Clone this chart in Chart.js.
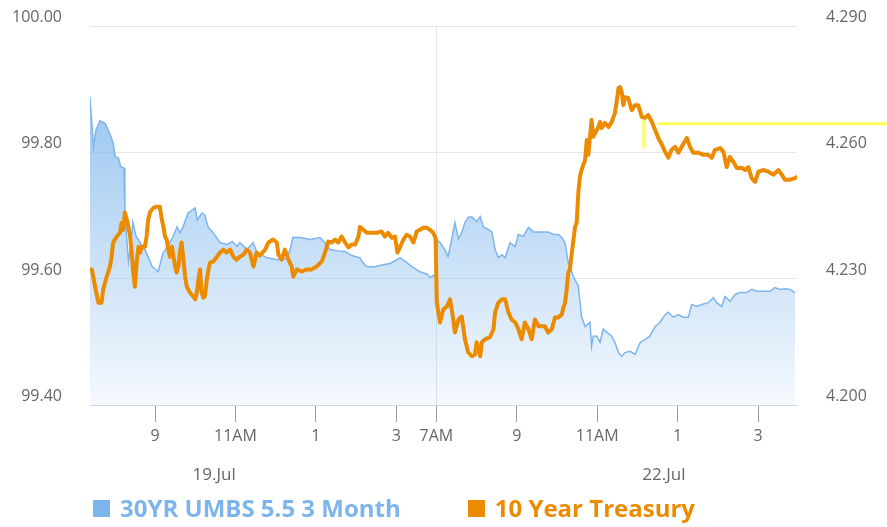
<!DOCTYPE html>
<html>
<head>
<meta charset="utf-8">
<script src="https://cdn.jsdelivr.net/npm/chart.js@4.4.1/dist/chart.umd.min.js"></script>
<style>
  html, body { margin: 0; padding: 0; background: #fff; }
  #wrap { position: relative; width: 887px; height: 527px; }
  #legend { position: absolute; left: 93px; top: 496px; display: flex; gap: 67px;
            font: bold 24px "Open Sans", sans-serif; line-height: 24px; white-space: nowrap; }
  #legend .item { display: flex; align-items: center; }
  #legend .box { width: 17px; height: 17px; margin-right: 10px; }
</style>
</head>
<body>
<div id="wrap">
  <canvas id="chart" width="887" height="527"></canvas>
  <div id="legend"></div>
</div>
<script>
// time is in hours on a trading clock: 19 Jul runs up to 16 (4PM),
// 22 Jul continues from 16 (= 7AM) so the overnight gap is squeezed out
const hourTicks = [9, 11, 13, 15, 16, 18, 20, 22, 24];
const hourLabels = ['9', '11AM', '1', '3', '7AM', '9', '11AM', '1', '3'];
const dateTicks = [10.47, 21.66];
const dateLabels = ['19.Jul', '22.Jul'];

const umbsTime = [
  7.38, 7.47, 7.53, 7.63, 7.76, 7.84, 7.96, 8.01, 8.09, 8.15,
  8.23, 8.25, 8.29, 8.34, 8.40, 8.45, 8.53, 8.63, 8.75, 8.93,
  9.08, 9.20, 9.32, 9.45, 9.55, 9.62, 9.70, 9.82, 10.00, 10.05,
  10.17, 10.24, 10.32, 10.44, 10.62, 10.79, 10.92, 11.04, 11.11, 11.29,
  11.44, 11.54, 11.79, 12.04, 12.28, 12.36, 12.43, 12.61, 12.86, 13.10,
  13.23, 13.35, 13.55, 13.73, 13.85, 13.98, 14.10, 14.15, 14.27, 14.47,
  14.67, 14.85, 15.02, 15.10, 15.27, 15.42, 15.59, 15.77, 15.84, 15.92,
  15.97,
  16.02, 16.09, 16.21, 16.29, 16.38, 16.46, 16.55, 16.63, 16.71, 16.79,
  16.88, 17.00, 17.09, 17.17, 17.29, 17.38, 17.46, 17.54, 17.63, 17.71,
  17.83, 17.96, 18.04, 18.16, 18.29, 18.41, 18.54, 18.66, 18.78, 18.91,
  19.03, 19.12, 19.20, 19.28, 19.41, 19.53, 19.61, 19.70, 19.82, 19.86,
  19.90, 19.99, 20.07, 20.15, 20.24, 20.36, 20.44, 20.53, 20.61, 20.69,
  20.82, 20.94, 21.07, 21.19, 21.31, 21.44, 21.56, 21.69, 21.77, 21.89,
  22.02, 22.14, 22.27, 22.35, 22.48, 22.60, 22.76, 22.89, 22.97, 23.10,
  23.18, 23.30, 23.43, 23.55, 23.72, 23.84, 23.97, 24.13, 24.30, 24.42,
  24.55, 24.67, 24.80, 24.92
];
const umbsPrice = [
  99.888, 99.809, 99.835, 99.850, 99.846, 99.835, 99.815, 99.793, 99.791, 99.777,
  99.775, 99.714, 99.670, 99.627, 99.654, 99.689, 99.667, 99.657, 99.646, 99.619,
  99.611, 99.641, 99.651, 99.667, 99.682, 99.673, 99.682, 99.704, 99.712, 99.693,
  99.704, 99.701, 99.682, 99.673, 99.657, 99.654, 99.659, 99.651, 99.657, 99.646,
  99.657, 99.641, 99.633, 99.630, 99.632, 99.646, 99.665, 99.665, 99.662, 99.665,
  99.657, 99.646, 99.644, 99.643, 99.638, 99.635, 99.633, 99.627, 99.619, 99.619,
  99.622, 99.624, 99.630, 99.633, 99.625, 99.618, 99.611, 99.607, 99.602, 99.605,
  99.602,
  99.662, 99.657, 99.646, 99.635, 99.662, 99.689, 99.662, 99.673, 99.689, 99.697,
  99.698, 99.690, 99.698, 99.682, 99.678, 99.674, 99.646, 99.633, 99.638, 99.633,
  99.657, 99.651, 99.670, 99.667, 99.681, 99.674, 99.674, 99.674, 99.674, 99.670,
  99.670, 99.665, 99.657, 99.625, 99.603, 99.588, 99.540, 99.524, 99.531, 99.493,
  99.509, 99.509, 99.499, 99.520, 99.515, 99.509, 99.499, 99.483, 99.477, 99.483,
  99.485, 99.480, 99.499, 99.504, 99.509, 99.524, 99.531, 99.543, 99.547, 99.539,
  99.543, 99.539, 99.539, 99.559, 99.556, 99.559, 99.562, 99.570, 99.562, 99.556,
  99.572, 99.564, 99.575, 99.578, 99.578, 99.583, 99.580, 99.580, 99.580, 99.586,
  99.583, 99.584, 99.583, 99.578
];

const tsyTime = [
  7.43, 7.51, 7.59, 7.67, 7.71, 7.80, 7.88, 7.92, 7.96, 8.05,
  8.13, 8.17, 8.21, 8.25, 8.30, 8.34, 8.38, 8.42, 8.46, 8.50,
  8.55, 8.59, 8.63, 8.67, 8.75, 8.79, 8.83, 8.88, 8.96, 9.04,
  9.12, 9.17, 9.21, 9.25, 9.29, 9.33, 9.37, 9.42, 9.46, 9.50,
  9.54, 9.58, 9.62, 9.66, 9.70, 9.75, 9.79, 9.87, 9.95, 10.00,
  10.04, 10.08, 10.12, 10.16, 10.20, 10.24, 10.29, 10.33, 10.37, 10.45,
  10.54, 10.62, 10.70, 10.78, 10.87, 10.95, 11.03, 11.11, 11.20, 11.28,
  11.36, 11.45, 11.53, 11.61, 11.74, 11.82, 11.94, 12.03, 12.07, 12.15,
  12.23, 12.32, 12.40, 12.44, 12.53, 12.65, 12.77, 12.90, 13.02, 13.15,
  13.23, 13.31, 13.40, 13.48, 13.56, 13.64, 13.73, 13.81, 13.89, 13.98,
  14.06, 14.10, 14.18, 14.27, 14.39, 14.52, 14.64, 14.72, 14.80, 14.89,
  14.97, 15.03, 15.10, 15.18, 15.26, 15.34, 15.43, 15.51, 15.59, 15.67,
  15.76, 15.84, 15.92, 15.98,
  16.01, 16.09, 16.17, 16.26, 16.34, 16.38, 16.42, 16.46, 16.55, 16.63,
  16.71, 16.79, 16.88, 16.96, 17.00, 17.09, 17.13, 17.21, 17.33, 17.42,
  17.46, 17.54, 17.63, 17.71, 17.79, 17.87, 17.96, 18.04, 18.12, 18.20,
  18.29, 18.37, 18.45, 18.54, 18.62, 18.70, 18.78, 18.87, 18.95, 19.03,
  19.12, 19.16, 19.20, 19.24, 19.28, 19.32, 19.37, 19.41, 19.45, 19.49,
  19.53, 19.57, 19.61, 19.70, 19.74, 19.78, 19.82, 19.86, 19.90, 19.95,
  20.03, 20.07, 20.11, 20.19, 20.28, 20.36, 20.44, 20.49, 20.53, 20.57,
  20.61, 20.65, 20.69, 20.77, 20.86, 20.94, 21.02, 21.11, 21.19, 21.27,
  21.36, 21.44, 21.52, 21.61, 21.69, 21.77, 21.85, 21.94, 22.02, 22.10,
  22.23, 22.31, 22.39, 22.52, 22.64, 22.76, 22.85, 22.93, 23.06, 23.14,
  23.22, 23.30, 23.39, 23.47, 23.60, 23.68, 23.76, 23.84, 23.93, 24.01,
  24.13, 24.26, 24.38, 24.51, 24.59, 24.67, 24.80, 24.92, 24.97
];
const tsyYield = [
  4.2322, 4.2281, 4.2243, 4.2243, 4.2274, 4.2305, 4.2329, 4.2352, 4.2386, 4.2400,
  4.2409, 4.2433, 4.2416, 4.2457, 4.2440, 4.2423, 4.2400, 4.2362, 4.2315, 4.2281,
  4.2345, 4.2376, 4.2362, 4.2376, 4.2376, 4.2400, 4.2440, 4.2459, 4.2468, 4.2471,
  4.2471, 4.2440, 4.2423, 4.2400, 4.2393, 4.2369, 4.2352, 4.2376, 4.2352, 4.2329,
  4.2315, 4.2329, 4.2362, 4.2386, 4.2352, 4.2305, 4.2281, 4.2267, 4.2258, 4.2251,
  4.2267, 4.2298, 4.2322, 4.2267, 4.2255, 4.2258, 4.2298, 4.2322, 4.2338, 4.2341,
  4.2352, 4.2362, 4.2369, 4.2362, 4.2369, 4.2352, 4.2345, 4.2352, 4.2357, 4.2369,
  4.2362, 4.2329, 4.2362, 4.2355, 4.2369, 4.2386, 4.2393, 4.2386, 4.2357, 4.2345,
  4.2369, 4.2345, 4.2329, 4.2305, 4.2322, 4.2317, 4.2322, 4.2322, 4.2329, 4.2341,
  4.2362, 4.2388, 4.2386, 4.2393, 4.2386, 4.2400, 4.2386, 4.2374, 4.2381, 4.2381,
  4.2400, 4.2423, 4.2416, 4.2409, 4.2409, 4.2409, 4.2412, 4.2400, 4.2409, 4.2397,
  4.2400, 4.2362, 4.2376, 4.2393, 4.2404, 4.2400, 4.2386, 4.2412, 4.2416, 4.2421,
  4.2421, 4.2416, 4.2409, 4.2397,
  4.2243, 4.2196, 4.2227, 4.2234, 4.2251, 4.2227, 4.2203, 4.2172, 4.2203, 4.2210,
  4.2156, 4.2125, 4.2116, 4.2120, 4.2149, 4.2116, 4.2149, 4.2156, 4.2161, 4.2180,
  4.2220, 4.2243, 4.2251, 4.2251, 4.2220, 4.2203, 4.2196, 4.2180, 4.2156, 4.2196,
  4.2180, 4.2156, 4.2203, 4.2187, 4.2187, 4.2187, 4.2172, 4.2180, 4.2208, 4.2208,
  4.2215, 4.2232, 4.2243, 4.2274, 4.2315, 4.2322, 4.2362, 4.2393, 4.2423, 4.2433,
  4.2504, 4.2542, 4.2558, 4.2582, 4.2629, 4.2594, 4.2637, 4.2677, 4.2637, 4.2646,
  4.2660, 4.2672, 4.2658, 4.2670, 4.2660, 4.2672, 4.2693, 4.2724, 4.2753, 4.2755,
  4.2743, 4.2712, 4.2731, 4.2729, 4.2700, 4.2712, 4.2712, 4.2684, 4.2682, 4.2689,
  4.2672, 4.2653, 4.2634, 4.2618, 4.2601, 4.2587, 4.2606, 4.2613, 4.2599, 4.2613,
  4.2634, 4.2613, 4.2599, 4.2599, 4.2594, 4.2594, 4.2587, 4.2606, 4.2610, 4.2601,
  4.2565, 4.2589, 4.2577, 4.2563, 4.2563, 4.2558, 4.2565, 4.2539, 4.2530, 4.2554,
  4.2558, 4.2554, 4.2547, 4.2558, 4.2547, 4.2535, 4.2535, 4.2539, 4.2541
];

// yellow marker line seen on the right side of the chart
const markerTime = [21.49, 27.21];
const markerYield = [4.2668, 4.2668];
const markerTickTime = [21.16, 21.16];
const markerTickYield = [4.2610, 4.2677];

const BLUE = '#7cb5ec';
const ORANGE = '#ec8b00';
const YELLOW = '#ffff5c';
const TEXT = '#666666';

Chart.defaults.font.family = '"Open Sans", sans-serif';
Chart.defaults.color = TEXT;

const xy = (xs, ys) => xs.map((x, i) => ({ x: x, y: ys[i] }));

function blueFill(ctx) {
    const area = ctx.chart.chartArea;
    if (!area) return 'rgba(124,181,236,0.4)';
    const g = ctx.chart.ctx.createLinearGradient(0, area.top, 0, area.bottom);
    g.addColorStop(0, 'rgba(124,181,236,0.92)');
    g.addColorStop(1, 'rgba(124,181,236,0.08)');
    return g;
}

// fixed side widths, and no extra room above/below for the y labels
function fitSide(s) {
    s.width = 90;
    s.paddingTop = 0;
    s.paddingBottom = 0;
}

const X_MIN = 7.383, X_MAX = 24.97;

const chart = new Chart(document.getElementById('chart'), {
    type: 'line',
    data: {
        datasets: [
            {
                label: '10 Year Treasury',
                data: xy(tsyTime, tsyYield),
                yAxisID: 'y2',
                borderColor: ORANGE,
                backgroundColor: ORANGE,
                borderWidth: 4,
                borderJoinStyle: 'round',
                borderCapStyle: 'round',
                pointRadius: 0,
                fill: false,
                order: 0
            },
            {
                label: '30YR UMBS 5.5 3 Month',
                data: xy(umbsTime, umbsPrice),
                yAxisID: 'y',
                borderColor: BLUE,
                backgroundColor: blueFill,
                legendColor: BLUE,
                borderWidth: 1.5,
                pointRadius: 0,
                fill: 'start',
                order: 1
            },
            {
                data: xy(markerTime, markerYield),
                yAxisID: 'y2',
                borderColor: YELLOW,
                borderWidth: 3,
                pointRadius: 0,
                clip: false,
                order: 2
            },
            {
                data: xy(markerTickTime, markerTickYield),
                yAxisID: 'y2',
                borderColor: YELLOW,
                borderWidth: 3,
                pointRadius: 0,
                order: 2
            }
        ]
    },
    options: {
        responsive: false,
        animation: false,
        devicePixelRatio: 1,
        layout: { padding: { top: 26, bottom: 37 } },
        plugins: { legend: { display: false }, tooltip: { enabled: false } },
        scales: {
            x: {
                type: 'linear',
                min: X_MIN, max: X_MAX,
                afterBuildTicks: s => { s.ticks = hourTicks.map(v => ({ value: v })); },
                afterFit: s => { s.height = 45; },
                ticks: {
                    autoSkip: false, maxRotation: 0, padding: 5,
                    font: { size: 16 }, color: TEXT,
                    callback: (v, i) => hourLabels[i]
                },
                grid: {
                    color: c => (c.tick && c.tick.value === 16) ? '#e6e6e6' : 'rgba(0,0,0,0)',
                    tickColor: '#999999',
                    tickLength: 17
                },
                border: { color: '#ccd6eb' }
            },
            x2: {
                type: 'linear',
                position: 'bottom',
                min: X_MIN, max: X_MAX,
                afterBuildTicks: s => { s.ticks = dateTicks.map(v => ({ value: v })); },
                afterFit: s => { s.height = 40; },
                ticks: {
                    autoSkip: false, maxRotation: 0, padding: 15,
                    font: { size: 17 }, color: TEXT,
                    callback: (v, i) => dateLabels[i]
                },
                grid: { display: false, drawTicks: false },
                border: { display: false }
            },
            y: {
                position: 'left',
                min: 99.4, max: 100.0,
                afterBuildTicks: s => { s.ticks = [99.4, 99.6, 99.8, 100.0].map(v => ({ value: v })); },
                afterFit: fitSide,
                ticks: {
                    padding: 28, labelOffset: -8.5,
                    font: { size: 16 }, color: TEXT,
                    callback: v => v.toFixed(2)
                },
                grid: { color: '#e6e6e6', drawTicks: false },
                border: { display: false }
            },
            y2: {
                position: 'right',
                min: 4.2, max: 4.29,
                afterBuildTicks: s => { s.ticks = [4.2, 4.23, 4.26, 4.29].map(v => ({ value: v })); },
                afterFit: fitSide,
                ticks: {
                    padding: 29, labelOffset: -8.5,
                    font: { size: 16 }, color: TEXT,
                    callback: v => v.toFixed(3)
                },
                grid: { drawOnChartArea: false, drawTicks: false },
                border: { display: false }
            }
        }
    }
});

// html legend, blue series first like the original
const legendEl = document.getElementById('legend');
chart.data.datasets
    .filter(d => d.label)
    .sort((a, b) => b.order - a.order)
    .forEach(d => {
        const color = d.legendColor || d.borderColor;
        const item = document.createElement('div');
        item.className = 'item';
        item.style.color = color;
        item.innerHTML = `<span class="box" style="background:${color}"></span><span>${d.label}</span>`;
        legendEl.appendChild(item);
    });
</script>
</body>
</html>
